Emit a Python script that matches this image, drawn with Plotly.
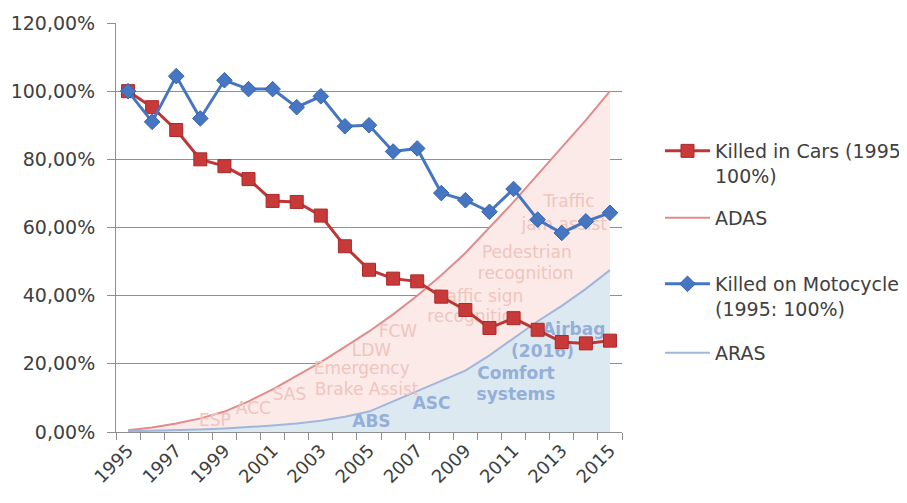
import plotly.graph_objects as go

years = list(range(1995, 2016))
tick_years = list(range(1995, 2016, 2))
tick_year_text = [str(y) for y in tick_years]

cars = [100, 95.3, 88.6, 80.0, 78.0, 74.2, 67.8, 67.5, 63.5, 54.5, 47.6,
        45.0, 44.2, 39.7, 35.8, 30.5, 33.4, 30.0, 26.4, 26.0, 26.8]
moto = [100, 91.0, 104.4, 92.0, 103.2, 100.6, 100.6, 95.3, 98.5, 89.7, 90.0,
        82.3, 83.2, 70.1, 68.0, 64.6, 71.3, 62.3, 58.4, 61.8, 64.3]
adas = [0.5, 1.3, 2.5, 4.0, 6.0, 9.0, 12.5, 16.5, 20.5, 25.0, 29.5,
        34.5, 40.0, 46.0, 52.5, 60.0, 67.5, 75.5, 83.5, 91.5, 100]
aras = [0.2, 0.3, 0.5, 0.7, 1.0, 1.4, 1.9, 2.5, 3.3, 4.5, 6.0,
        9.0, 12.0, 15.0, 18.0, 22.5, 27.5, 32.5, 37.0, 42.0, 47.5]

y_ticks = [0, 20, 40, 60, 80, 100, 120]
y_tick_text = ["0,00%", "20,00%", "40,00%", "60,00%", "80,00%", "100,00%", "120,00%"]

pink_labels = ["Traffic", "jam assist", "Pedestrian", "recognition", "Traffic sign",
               "recognition", "FCW", "LDW", "Emergency", "Brake Assist", "SAS", "ACC", "ESP"]
pink_x = [2013.3, 2013.1, 2011.55, 2011.5, 2009.5, 2009.4, 2006.2, 2005.1,
          2004.7, 2004.9, 2001.7, 2000.2, 1998.6]
pink_y = [67.2, 60.4, 52.2, 46.0, 39.3, 33.4, 29.0, 23.5, 18.2, 12.0, 10.6, 6.5, 3.0]

blue_labels = ["Airbag", "(2016)", "Comfort", "systems", "ASC", "ABS"]
blue_x = [2013.5, 2012.2, 2011.1, 2011.1, 2007.6, 2005.1]
blue_y = [29.6, 23.2, 16.7, 10.6, 7.9, 2.6]

GRID = "#8f8f8f"
TXT = "#404040"
FONT = "DejaVu Sans"
ADAS_LINE = "rgb(224,140,140)"
ARAS_LINE = "rgb(160,182,220)"

fig = go.Figure()

# filled areas (legend entries are added separately as plain lines)
fig.add_trace(go.Scatter(
    x=years, y=adas, name="ADAS", mode="lines", fill="tozeroy",
    fillcolor="rgb(252,234,232)", line=dict(color=ADAS_LINE, width=2),
    showlegend=False))
fig.add_trace(go.Scatter(
    x=years, y=aras, name="ARAS", mode="lines", fill="tozeroy",
    fillcolor="rgb(221,233,241)", line=dict(color=ARAS_LINE, width=2),
    showlegend=False))
fig.add_trace(go.Scatter(
    x=pink_x, y=pink_y, text=pink_labels, mode="text", showlegend=False,
    hoverinfo="skip", textfont=dict(family=FONT, size=17, color="rgb(239,197,190)")))
fig.add_trace(go.Scatter(
    x=blue_x, y=blue_y, text=blue_labels, mode="text", showlegend=False,
    hoverinfo="skip", textfont=dict(family=FONT, size=17, color="rgb(148,175,217)",
                                    weight="bold")))
fig.add_trace(go.Scatter(
    x=years, y=cars, name="Killed in Cars (1995:<br>100%)", mode="lines+markers",
    line=dict(color="rgb(190,55,55)", width=3),
    marker=dict(symbol="square", size=13, color="rgb(200,58,58)",
                line=dict(color="rgb(170,40,40)", width=1)),
    legend="legend"))
fig.add_trace(go.Scatter(
    x=years, y=moto, name="Killed on Motocycle<br>(1995: 100%)", mode="lines+markers",
    line=dict(color="rgb(70,118,194)", width=3),
    marker=dict(symbol="diamond", size=12, color="rgb(70,118,194)",
                line=dict(color="rgb(55,100,175)", width=1)),
    legend="legend3"))
fig.add_trace(go.Scatter(
    x=[None], y=[None], name="ADAS", mode="lines",
    line=dict(color=ADAS_LINE, width=2), legend="legend2"))
fig.add_trace(go.Scatter(
    x=[None], y=[None], name="ARAS", mode="lines",
    line=dict(color=ARAS_LINE, width=2), legend="legend4"))

leg_common = dict(font=dict(family=FONT, size=19, color=TXT), bgcolor="rgba(0,0,0,0)",
                  xanchor="left", yanchor="top", valign="top", itemwidth=45,
                  tracegroupgap=0)
lx = (660 - 116) / 506


def ly(py):
    return (432 - py) / 409


# the page body has an 8px default margin, so the figure is drawn 8px smaller
fig.update_layout(
    width=899, height=495,
    margin=dict(l=108, r=285, t=15, b=71, autoexpand=False),
    paper_bgcolor="white", plot_bgcolor="white",
    font=dict(family=FONT, size=18, color=TXT),
    showlegend=True,
    legend=dict(x=lx, y=ly(132), **leg_common),
    legend2=dict(x=lx, y=ly(199), **leg_common),
    legend3=dict(x=lx, y=ly(265), **leg_common),
    legend4=dict(x=lx, y=ly(334), **leg_common),
    xaxis=dict(
        range=[1994.5, 2015.5], tickmode="array", tickvals=tick_years,
        ticktext=tick_year_text, tickangle=-45, ticks="", showgrid=False,
        showline=True, linecolor=GRID, linewidth=1, zeroline=False,
        tickfont=dict(family=FONT, size=18, color=TXT),
        minor=dict(tickmode="linear", tick0=1994.5, dtick=1, ticks="outside",
                   ticklen=7, tickcolor=GRID, showgrid=False)),
    yaxis=dict(
        range=[0, 120], tickmode="array", tickvals=y_ticks, ticktext=y_tick_text,
        showgrid=True, gridcolor=GRID, gridwidth=1, zeroline=False,
        showline=True, linecolor=GRID, linewidth=1, ticks="outside", ticklen=8,
        tickcolor=GRID, ticklabelstandoff=8,
        tickfont=dict(family=FONT, size=19, color=TXT)),
)

fig.write_html("out.html")
